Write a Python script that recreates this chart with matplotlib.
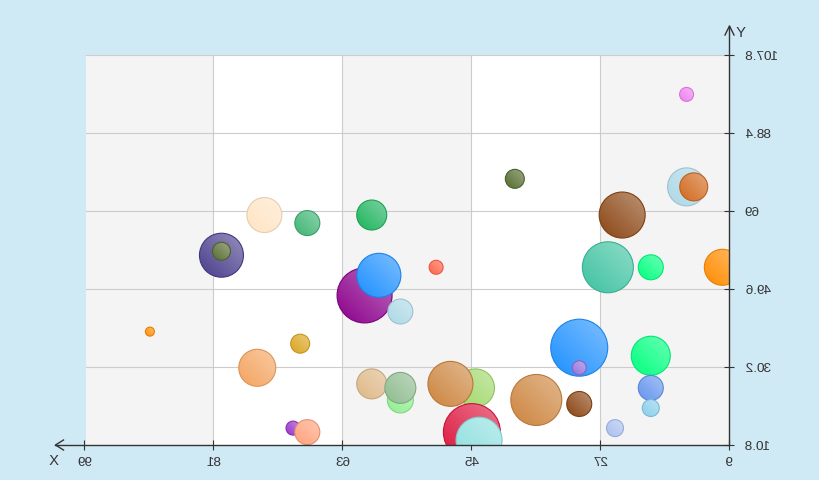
import numpy as np
import matplotlib
matplotlib.use("Agg")
import matplotlib.pyplot as plt
from matplotlib.patches import Ellipse
from matplotlib.lines import Line2D
from matplotlib.colors import to_rgb

# ---------------- data ----------------
x_ticks = [9, 27, 45, 63, 81, 99]
y_ticks = [10.8, 30.2, 49.6, 69, 88.4, 107.8]
x_tick_labels = ["9", "27", "45", "63", "81", "99"]
y_tick_labels = ["10.8", "30.2", "49.6", "69", "88.4", "107.8"]

x_vals = [80, 80, 74, 68, 90, 69, 75, 60, 58, 55, 59, 50, 59, 55, 55, 70, 68,
          44.5, 48, 45, 44, 36, 30, 30, 30, 39, 24, 26, 20, 10, 15, 14, 15,
          20, 20, 20, 25]
y_vals = [58, 59, 68, 66, 39, 36, 30, 48, 53, 44, 68, 55, 26, 22, 25, 15, 14,
          25, 26, 14, 12, 22, 21, 35, 30, 77, 68, 55, 55, 55, 75, 75, 98,
          33, 25, 20, 15]
bubble_sizes = [44, 18, 35, 25, 9, 19, 37, 55, 44, 25, 30, 14, 30, 26, 31, 14, 25,
                38, 45, 57, 46, 51, 25, 57, 14, 19, 46, 51, 25, 36, 38, 28, 14,
                39, 25, 17, 17]
colors = ["#483D8B", "#556B2F", "#FFE4C4", "#3CB371", "#FF8C00", "#DAA520",
          "#F4A460", "#8B008B", "#1E90FF", "#ADD8E6", "#1DB35C", "#FF6347",
          "#DEB887", "#90EE90", "#8FBC8F", "#9932CC", "#FFA07A", "#9FD86B",
          "#CD853F", "#DC143C", "#8EE0DF", "#CD853F", "#8B4513", "#1E90FF",
          "#9370DB", "#556B2F", "#8B4513", "#3DC2A0", "#00FF7F", "#FF8C00",
          "#ADD8E6", "#D2691E", "#EE82EE", "#00FF7F", "#6495ED", "#87CEEB",
          "#A9BFF0"]

# ---------------- style ----------------
BG = "#cfe9f5"
AX_COLOR = "#333333"
W, H = 820, 480
L, T, PW, PH = 89.5, 55, 644, 390

fig = plt.figure(figsize=(W / 100, H / 100), dpi=100, facecolor=BG)
ax = fig.add_axes([L / W, (H - T - PH) / H, PW / W, PH / H])
ax.set_facecolor("white")
ax.set_xlim(x_ticks[0], x_ticks[-1])
ax.set_ylim(y_ticks[0], y_ticks[-1])
for s in ax.spines.values():
    s.set_visible(False)

# split areas
for i, (a, b) in enumerate(zip(x_ticks[:-1], x_ticks[1:])):
    if i % 2 == 0:
        ax.axvspan(a, b, color="#f4f4f4", lw=0, zorder=0)
# grid
for t in x_ticks[1:]:
    ax.axvline(t, color="#cccccc", lw=0.8, zorder=0.5)
for t in y_ticks[1:]:
    ax.axhline(t, color="#cccccc", lw=0.8, zorder=0.5)

ax.set_xticks(x_ticks)
ax.set_xticklabels(x_tick_labels)
ax.set_yticks(y_ticks)
ax.set_yticklabels(y_tick_labels)
ax.tick_params(axis="both", direction="inout", length=7, width=0.8,
               color=AX_COLOR, labelcolor=AX_COLOR, labelsize=9.7)
ax.tick_params(axis="y", pad=7.5)
ax.tick_params(axis="x", pad=5)
for lab in ax.get_xticklabels() + ax.get_yticklabels():
    lab.set_family("Liberation Sans")

# axis lines with arrows
xr = (x_ticks[-1] - x_ticks[0]) / PW   # data units per px
yr = (y_ticks[-1] - y_ticks[0]) / PH
x_end = 1 + 30 / PW
y_end = 1 + 29 / PH
ax.add_line(Line2D([0, x_end], [0, 0], transform=ax.transAxes, color=AX_COLOR,
                   lw=1, clip_on=False, zorder=50))
ax.add_line(Line2D([0, 0], [0, y_end], transform=ax.transAxes, color=AX_COLOR,
                   lw=1, clip_on=False, zorder=50))
ax.add_line(Line2D([x_end - 8 / PW, x_end, x_end - 8 / PW], [5 / PH, 0, -5 / PH],
                   transform=ax.transAxes, color=AX_COLOR, lw=1, clip_on=False, zorder=50))
ax.add_line(Line2D([-4.5 / PW, 0, 4.5 / PW], [y_end - 9 / PH, y_end, y_end - 9 / PH],
                   transform=ax.transAxes, color=AX_COLOR, lw=1, clip_on=False, zorder=50))
fig.text(78 / W, 1 - 33 / H, "Y", ha="center", va="center", fontsize=10.5,
         color=AX_COLOR, family="Liberation Sans")
fig.text(765 / W, 1 - 461 / H, "X", ha="center", va="center", fontsize=10.5,
         color=AX_COLOR, family="Liberation Sans")

# bubbles with gradient (light at top-left before the final mirror)
n = 64
u, v = np.meshgrid(np.linspace(0, 1, n), np.linspace(0, 1, n))
f = ((1 - u) + v) / 2.0
k = 0.42
for i, (xv, yv, d, c) in enumerate(zip(x_vals, y_vals, bubble_sizes, colors)):
    r = d / 2.0
    rx, ry = r * xr, r * yr
    base = np.array(to_rgb(c))
    img = base[None, None, :] * (1 - k * f[..., None]) + k * f[..., None]
    z = 5 + i * 0.02
    im = ax.imshow(img, extent=[xv - rx, xv + rx, yv - ry, yv + ry], origin="lower",
                   aspect="auto", interpolation="bilinear", zorder=z)
    e = Ellipse((xv, yv), 2 * rx, 2 * ry, facecolor="none",
                edgecolor=base * 0.9, lw=0.8, zorder=z + 0.01)
    ax.add_patch(e)
    im.set_clip_path(e)

ax.set_xlim(x_ticks[0], x_ticks[-1])
ax.set_ylim(y_ticks[0], y_ticks[-1])

fig.canvas.draw()
buf = np.asarray(fig.canvas.buffer_rgba())
mirrored = buf[:, ::-1, :].copy()
plt.imsave("out.png", mirrored)
